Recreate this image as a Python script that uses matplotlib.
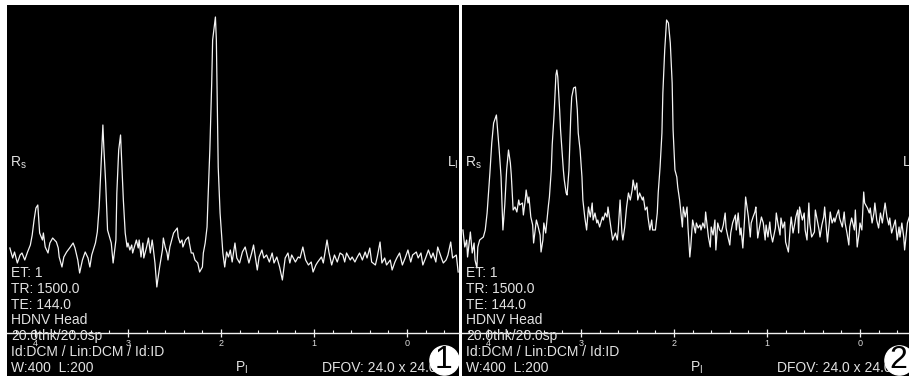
import matplotlib
matplotlib.use("Agg")
import matplotlib.pyplot as plt
from matplotlib.ticker import MultipleLocator

plt.rcParams['font.family'] = ['Liberation Sans', 'DejaVu Sans']
plt.rcParams['mathtext.fontset'] = 'custom'
plt.rcParams['mathtext.rm'] = 'Liberation Sans'

# espectro 1 (ppm, señal)
ppm1 = [4.27, 4.24, 4.22, 4.19, 4.16, 4.14, 4.11, 4.08, 4.05, 4.03, 4.01, 3.99, 3.97, 3.95,
        3.92, 3.91, 3.89, 3.86, 3.84, 3.81, 3.77, 3.75, 3.74, 3.71, 3.69, 3.66, 3.62, 3.59,
        3.57, 3.54, 3.52, 3.49, 3.46, 3.43, 3.41, 3.39, 3.35, 3.33, 3.31, 3.29, 3.27, 3.26,
        3.24, 3.22, 3.18, 3.16, 3.13, 3.12, 3.10, 3.08, 3.05, 3.03, 3.01, 3.00, 2.98, 2.96,
        2.95, 2.91, 2.89, 2.88, 2.86, 2.84, 2.83, 2.80, 2.78, 2.76, 2.74, 2.73, 2.71, 2.69,
        2.68, 2.66, 2.63, 2.62, 2.60, 2.58, 2.57, 2.55, 2.53, 2.51, 2.47, 2.46, 2.44, 2.42,
        2.41, 2.38, 2.35, 2.34, 2.32, 2.30, 2.28, 2.25, 2.23, 2.20, 2.19, 2.17, 2.15, 2.14,
        2.12, 2.10, 2.09, 2.06, 2.05, 2.04, 2.03, 2.01, 1.99, 1.98, 1.96, 1.94, 1.92, 1.90,
        1.88, 1.85, 1.83, 1.80, 1.77, 1.74, 1.72, 1.70, 1.67, 1.65, 1.61, 1.59, 1.56, 1.54,
        1.51, 1.48, 1.45, 1.43, 1.40, 1.37, 1.34, 1.31, 1.28, 1.26, 1.24, 1.20, 1.17, 1.15,
        1.12, 1.09, 1.06, 1.03, 1.01, 0.98, 0.96, 0.92, 0.90, 0.86, 0.84, 0.81, 0.78, 0.75,
        0.72, 0.69, 0.67, 0.65, 0.61, 0.59, 0.56, 0.54, 0.51, 0.48, 0.45, 0.43, 0.40, 0.38,
        0.34, 0.32, 0.29, 0.27, 0.24, 0.22, 0.18, 0.16, 0.13, 0.11, 0.08, 0.05, 0.02, -0.01,
        -0.04, -0.06, -0.10, -0.12, -0.15, -0.17, -0.20, -0.23, -0.26, -0.28, -0.31, -0.33,
        -0.37, -0.39, -0.42, -0.44, -0.47, -0.49, -0.53, -0.55]
sig1 = [131, 121, 127, 116, 124, 126, 119, 127, 134, 144, 159, 171, 174, 146,
        139, 146, 132, 126, 136, 141, 137, 131, 122, 112, 122, 127, 132, 136,
        131, 119, 106, 119, 127, 121, 112, 124, 136, 147, 172, 212, 254, 232,
        196, 149, 136, 116, 139, 186, 229, 244, 179, 146, 132, 136, 129, 134,
        126, 139, 131, 139, 122, 136, 121, 132, 141, 126, 139, 132, 116, 92,
        99, 112, 129, 141, 132, 126, 119, 132, 139, 146, 151, 142, 136, 139,
        132, 139, 142, 136, 126, 126, 119, 116, 107, 112, 126, 136, 152, 179,
        229, 296, 339, 362, 339, 279, 212, 166, 139, 126, 112, 127, 122, 129,
        117, 136, 121, 116, 127, 132, 124, 116, 126, 134, 109, 122, 129, 121,
        124, 117, 126, 116, 122, 112, 99, 121, 126, 116, 124, 117, 122, 121,
        132, 119, 114, 117, 107, 114, 117, 122, 116, 139, 127, 114, 124, 117,
        126, 124, 117, 126, 119, 122, 117, 121, 126, 119, 127, 121, 131, 117,
        114, 122, 137, 116, 121, 114, 119, 109, 117, 121, 126, 114, 121, 129,
        117, 124, 127, 121, 126, 114, 121, 129, 121, 126, 117, 132,
        121, 116, 119, 124, 137, 121, 124, 107]

# espectro 2 (ppm, señal)
ppm2 = [4.27, 4.25, 4.23, 4.22, 4.19, 4.17, 4.15, 4.14, 4.12, 4.11, 4.09, 4.05, 4.03, 4.01,
        4.00, 3.98, 3.96, 3.94, 3.91, 3.90, 3.88, 3.86, 3.84, 3.82, 3.80, 3.78, 3.76, 3.75,
        3.73, 3.71, 3.69, 3.67, 3.66, 3.63, 3.62, 3.60, 3.59, 3.57, 3.56, 3.54, 3.52, 3.51,
        3.48, 3.46, 3.44, 3.43, 3.41, 3.40, 3.38, 3.35, 3.34, 3.32, 3.31, 3.29, 3.27, 3.26,
        3.25, 3.23, 3.22, 3.19, 3.18, 3.16, 3.15, 3.13, 3.11, 3.10, 3.08, 3.06, 3.04, 3.03,
        3.01, 2.99, 2.98, 2.96, 2.94, 2.92, 2.90, 2.88, 2.87, 2.85, 2.83, 2.82, 2.80, 2.77,
        2.76, 2.74, 2.72, 2.71, 2.69, 2.67, 2.66, 2.63, 2.61, 2.60, 2.58, 2.56, 2.55, 2.53,
        2.51, 2.49, 2.47, 2.45, 2.44, 2.42, 2.40, 2.39, 2.37, 2.34, 2.33, 2.31, 2.29, 2.28,
        2.26, 2.24, 2.23, 2.20, 2.18, 2.17, 2.15, 2.13, 2.12, 2.10, 2.08, 2.06, 2.04, 2.02,
        2.01, 1.99, 1.97, 1.96, 1.94, 1.91, 1.90, 1.88, 1.86, 1.85, 1.83, 1.82, 1.80, 1.77,
        1.76, 1.74, 1.72, 1.71, 1.69, 1.67, 1.66, 1.63, 1.61, 1.60, 1.58, 1.56, 1.55, 1.53,
        1.51, 1.49, 1.47, 1.45, 1.44, 1.42, 1.40, 1.39, 1.37, 1.34, 1.33, 1.31, 1.29, 1.28,
        1.26, 1.24, 1.23, 1.20, 1.18, 1.17, 1.15, 1.13, 1.12, 1.10, 1.08, 1.06, 1.04, 1.02,
        1.01, 0.99, 0.97, 0.96, 0.94, 0.91, 0.90, 0.88, 0.86, 0.85, 0.83, 0.81, 0.80, 0.77,
        0.75, 0.74, 0.72, 0.70, 0.69, 0.67, 0.66, 0.65, 0.62, 0.60, 0.59, 0.57, 0.55, 0.54,
        0.52, 0.49, 0.48, 0.46, 0.44, 0.43, 0.41, 0.39, 0.38, 0.35, 0.33, 0.32, 0.30, 0.28,
        0.27, 0.25, 0.23, 0.22, 0.19, 0.17, 0.16, 0.14, 0.12, 0.11, 0.09, 0.06, 0.05, 0.03,
        0.01, 0.00, -0.02, -0.04, -0.05, -0.08, -0.10, -0.11, -0.13, -0.15, -0.16, -0.18,
        -0.20, -0.22, -0.24, -0.26, -0.27, -0.29, -0.31, -0.32, -0.34, -0.37, -0.38, -0.40,
        -0.42, -0.43, -0.45, -0.47, -0.48, -0.51, -0.53]
sig2 = [149, 132, 139, 122, 147, 126, 136, 119, 111, 132, 139, 142, 149, 166,
        179, 206, 236, 256, 264, 252, 229, 202, 149, 174, 209, 229, 216, 204,
        169, 172, 167, 179, 174, 176, 164, 179, 189, 176, 182, 162, 154, 136,
        159, 152, 144, 127, 139, 156, 146, 174, 182, 209, 234, 264, 304, 309,
        302, 269, 249, 209, 199, 186, 184, 209, 264, 282, 291, 292, 269, 246,
        229, 202, 179, 162, 149, 172, 162, 176, 159, 166, 156, 159, 152, 162,
        159, 166, 162, 172, 159, 146, 139, 146, 139, 149, 179, 146, 139, 152,
        172, 186, 179, 189, 199, 189, 196, 179, 186, 179, 182, 169, 172, 162,
        149, 159, 149, 149, 166, 186, 212, 246, 286, 329, 359, 356, 336, 296,
        249, 209, 202, 192, 179, 152, 172, 162, 172, 152, 122, 132, 159, 146,
        156, 151, 154, 149, 156, 151, 167, 142, 132, 152, 144, 159, 129, 156,
        149, 147, 154, 166, 151, 142, 134, 146, 156, 164, 149, 166, 144, 151,
        131, 162, 182, 162, 142, 156, 162, 167, 172, 141, 152, 162, 156, 139,
        154, 142, 157, 146, 137, 151, 166, 154, 144, 161, 151, 157, 137, 127,
        152, 162, 146, 156, 162, 169, 146, 172, 159, 166, 149, 139, 176, 156,
        142, 147, 169, 159, 149, 142, 154, 162, 172, 137, 156, 167, 156, 161,
        157, 164, 169, 161, 152, 167, 156, 146, 134, 152, 161, 149, 169, 132,
        146, 156, 149, 187, 176, 171, 166, 171, 156, 166, 176, 159,
        151, 166, 156, 169, 176, 162, 154, 161, 146, 156, 159, 139,
        152, 142, 156, 142, 129, 156, 162]

major_ticks = [4, 3, 2, 1, 0]
info_lines = ["ET: 1", "TR: 1500.0", "TE: 144.0", "HDNV Head",
              "20.0thk/20.0sp", "Id:DCM / Lin:DCM / Id:ID", "W:400  L:200"]
dfov = "DFOV: 24.0 x 24.0cm"

W, H = 909, 379
TOP, BOT = 5, 376      # filas del area negra (px)
txt = '#e2e2e2'

fig = plt.figure(figsize=(W / 100, H / 100), dpi=100, facecolor='white')


def panel(left, width, ppm, sig, xlim, num):
    ax = fig.add_axes([left / W, (H - BOT) / H, width / W, (BOT - TOP) / H])
    ax.set_facecolor('black')
    ax.plot(ppm, sig, color='#f4f4f4', lw=0.9)
    ax.set_xlim(*xlim)
    ax.set_ylim(H - BOT, H - TOP)
    for s in ['top', 'left', 'right']:
        ax.spines[s].set_visible(False)
    ax.spines['bottom'].set_position(('data', H - 333))
    ax.spines['bottom'].set_color('#f0f0f0')
    ax.spines['bottom'].set_linewidth(1.0)
    ax.set_yticks([])
    ax.set_xticks(major_ticks)
    ax.set_xticklabels([str(t) for t in major_ticks])
    ax.xaxis.set_minor_locator(MultipleLocator(0.2))
    ax.tick_params(axis='x', which='major', direction='inout', length=6, width=0.9,
                   color='#f0f0f0', labelcolor='#dddddd', labelsize=6.5, pad=1.5)
    ax.tick_params(axis='x', which='minor', direction='in', length=2.5, width=0.8,
                   color='#f0f0f0')

    def pos(dx, y):
        return dx / width, (BOT - y) / (BOT - TOP)

    for i, line in enumerate(info_lines):
        ax.text(*pos(4, 277 + 15.8 * i), line, transform=ax.transAxes, color=txt,
                fontsize=10, va='baseline', ha='left', clip_on=True)
    ax.text(*pos(3, 167), r'R$_\mathregular{s}$', transform=ax.transAxes, color=txt,
            fontsize=10, va='baseline', clip_on=True)
    ax.text(*pos(440, 167), r'L$_\mathregular{I}$', transform=ax.transAxes, color=txt,
            fontsize=10, va='baseline', clip_on=True)
    ax.text(*pos(228, 372), r'P$_\mathregular{I}$', transform=ax.transAxes, color=txt,
            fontsize=10, va='baseline', clip_on=True)
    ax.text(*pos(315, 372), dfov, transform=ax.transAxes, color=txt,
            fontsize=10, va='baseline', clip_on=True)
    cx, cy = pos(436.5, 360)
    ax.scatter([cx], [cy], s=21 ** 2, color='white', transform=ax.transAxes,
               zorder=5, clip_on=False)
    ax.text(cx, cy, num, transform=ax.transAxes, color='black', fontsize=23,
            ha='center', va='center', zorder=6)
    return ax


panel(7, 452, ppm1, sig1, (4.301, -0.559), '1')
panel(462, 447, ppm2, sig2, (4.280, -0.527), '2')

fig.savefig('out.png', dpi=100, facecolor='white')
